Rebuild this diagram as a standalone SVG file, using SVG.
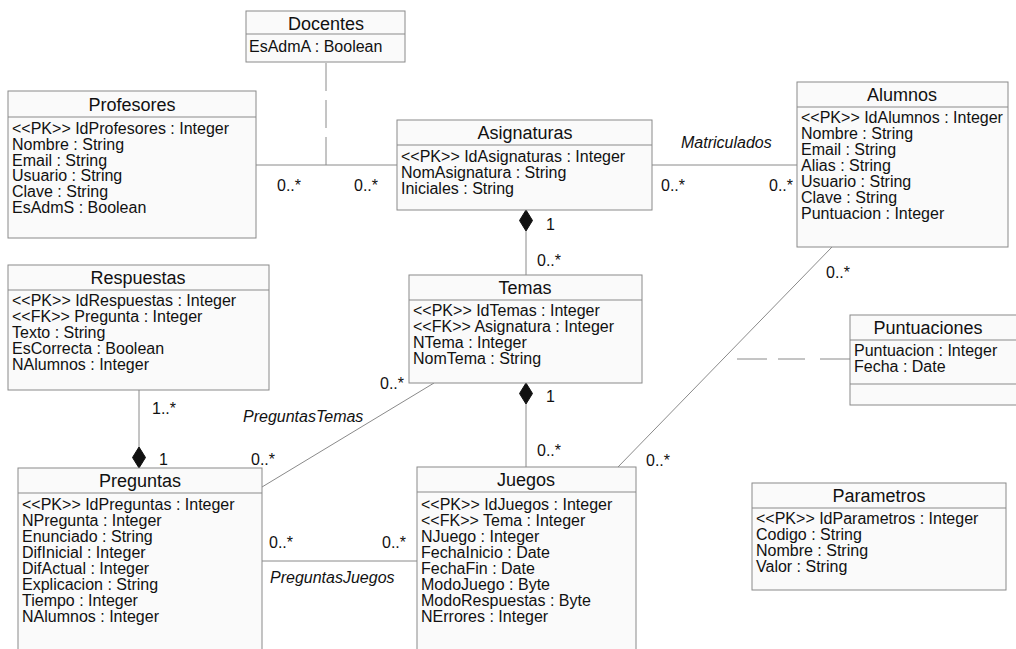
<svg xmlns="http://www.w3.org/2000/svg" width="1016" height="649" viewBox="0 0 1016 649">
<style>
.box{fill:#fafafa;stroke:#8a8a8a;stroke-width:1}
.div{stroke:#8a8a8a;stroke-width:1}
.t{font-family:"Liberation Sans",Arial,sans-serif;font-size:18px;fill:#111;text-anchor:middle}
.a{font-family:"Liberation Sans",Arial,sans-serif;font-size:16px;fill:#111}
.m{font-family:"Liberation Sans",Arial,sans-serif;font-size:16px;fill:#111}
.i{font-family:"Liberation Sans",Arial,sans-serif;font-size:16px;fill:#111;font-style:italic}
.ln{stroke:#8a8a8a;stroke-width:1;fill:none}
.dash{stroke:#8a8a8a;stroke-width:1;fill:none;stroke-dasharray:28 9}
.dash2{stroke:#8a8a8a;stroke-width:1;fill:none;stroke-dasharray:30 15 27 11 30}
.dia{fill:#111;stroke:#111}
</style>
<rect width="1016" height="649" fill="#ffffff"/>
<g id="connectors">
  <line class="ln" x1="256" y1="165" x2="397" y2="165"/>
  <line class="dash" x1="326" y1="165" x2="326" y2="62"/>
  <line class="ln" x1="652" y1="165" x2="797" y2="165"/>
  <line class="ln" x1="526" y1="231" x2="526" y2="275"/>
  <polygon class="dia" points="526,210 532.5,220.5 526,231 519.5,220.5"/>
  <line class="ln" x1="526" y1="404" x2="526" y2="467"/>
  <polygon class="dia" points="526,383 532.5,393.5 526,404 519.5,393.5"/>
  <line class="ln" x1="139" y1="390" x2="139" y2="447"/>
  <polygon class="dia" points="139,447 145.5,457.5 139,468 132.5,457.5"/>
  <line class="ln" x1="434" y1="383" x2="262" y2="487"/>
  <line class="ln" x1="262" y1="561" x2="417" y2="561"/>
  <line class="ln" x1="832" y1="247" x2="618" y2="467"/>
  <line class="dash2" x1="850" y1="359" x2="737" y2="359"/>
  <text class="m" x="277" y="191">0..*</text>
  <text class="m" x="354" y="191">0..*</text>
  <text class="i" x="681" y="148">Matriculados</text>
  <text class="m" x="661" y="191">0..*</text>
  <text class="m" x="769" y="191">0..*</text>
  <text class="m" x="546" y="230">1</text>
  <text class="m" x="537" y="266">0..*</text>
  <text class="m" x="546" y="402">1</text>
  <text class="m" x="537" y="456">0..*</text>
  <text class="m" x="152" y="414">1..*</text>
  <text class="m" x="159" y="465">1</text>
  <text class="m" x="380" y="389">0..*</text>
  <text class="i" x="243" y="422">PreguntasTemas</text>
  <text class="m" x="251" y="465">0..*</text>
  <text class="m" x="269" y="548">0..*</text>
  <text class="m" x="382" y="548">0..*</text>
  <text class="i" x="270" y="583">PreguntasJuegos</text>
  <text class="m" x="826" y="278">0..*</text>
  <text class="m" x="646" y="466">0..*</text>
</g>
<g id="Docentes">
  <rect class="box" x="246" y="11" width="159" height="51"/>
  <line class="div" x1="246" y1="34" x2="405" y2="34"/>
  <text class="t" x="326" y="30">Docentes</text>
  <text class="a" x="249" y="52">EsAdmA : Boolean</text>
</g>
<g id="Profesores">
  <rect class="box" x="8" y="91" width="248" height="147"/>
  <line class="div" x1="8" y1="117" x2="256" y2="117"/>
  <text class="t" x="132" y="111">Profesores</text>
  <text class="a" x="12" y="134">&lt;&lt;PK&gt;&gt; IdProfesores : Integer</text>
  <text class="a" x="12" y="150">Nombre : String</text>
  <text class="a" x="12" y="166">Email : String</text>
  <text class="a" x="12" y="181">Usuario : String</text>
  <text class="a" x="12" y="197">Clave : String</text>
  <text class="a" x="12" y="213">EsAdmS : Boolean</text>
</g>
<g id="Asignaturas">
  <rect class="box" x="397" y="120" width="255" height="90"/>
  <line class="div" x1="397" y1="145" x2="652" y2="145"/>
  <text class="t" x="525" y="139">Asignaturas</text>
  <text class="a" x="401" y="162">&lt;&lt;PK&gt;&gt; IdAsignaturas : Integer</text>
  <text class="a" x="401" y="178">NomAsignatura : String</text>
  <text class="a" x="401" y="194">Iniciales : String</text>
</g>
<g id="Alumnos">
  <rect class="box" x="797" y="82" width="211" height="165"/>
  <line class="div" x1="797" y1="107" x2="1008" y2="107"/>
  <text class="t" x="902" y="101">Alumnos</text>
  <text class="a" x="801" y="123">&lt;&lt;PK&gt;&gt; IdAlumnos : Integer</text>
  <text class="a" x="801" y="139">Nombre : String</text>
  <text class="a" x="801" y="155">Email : String</text>
  <text class="a" x="801" y="171">Alias : String</text>
  <text class="a" x="801" y="187">Usuario : String</text>
  <text class="a" x="801" y="203">Clave : String</text>
  <text class="a" x="801" y="219">Puntuacion : Integer</text>
</g>
<g id="Respuestas">
  <rect class="box" x="8" y="265" width="261" height="125"/>
  <line class="div" x1="8" y1="290" x2="269" y2="290"/>
  <text class="t" x="138" y="284">Respuestas</text>
  <text class="a" x="12" y="306">&lt;&lt;PK&gt;&gt; IdRespuestas : Integer</text>
  <text class="a" x="12" y="322">&lt;&lt;FK&gt;&gt; Pregunta : Integer</text>
  <text class="a" x="12" y="338">Texto : String</text>
  <text class="a" x="12" y="354">EsCorrecta : Boolean</text>
  <text class="a" x="12" y="370">NAlumnos : Integer</text>
</g>
<g id="Temas">
  <rect class="box" x="409" y="275" width="233" height="108"/>
  <line class="div" x1="409" y1="300" x2="642" y2="300"/>
  <text class="t" x="525" y="294">Temas</text>
  <text class="a" x="413" y="316">&lt;&lt;PK&gt;&gt; IdTemas : Integer</text>
  <text class="a" x="413" y="332">&lt;&lt;FK&gt;&gt; Asignatura : Integer</text>
  <text class="a" x="413" y="348">NTema : Integer</text>
  <text class="a" x="413" y="364">NomTema : String</text>
</g>
<g id="Puntuaciones">
  <rect class="box" x="850" y="315" width="168" height="90"/>
  <line class="div" x1="850" y1="340" x2="1018" y2="340"/>
  <line class="div" x1="850" y1="384" x2="1018" y2="384"/>
  <text class="t" x="928" y="334">Puntuaciones</text>
  <text class="a" x="854" y="356">Puntuacion : Integer</text>
  <text class="a" x="854" y="372">Fecha : Date</text>
</g>
<g id="Preguntas">
  <rect class="box" x="18" y="468" width="244" height="190"/>
  <line class="div" x1="18" y1="493" x2="262" y2="493"/>
  <text class="t" x="140" y="487">Preguntas</text>
  <text class="a" x="22" y="510">&lt;&lt;PK&gt;&gt; IdPreguntas : Integer</text>
  <text class="a" x="22" y="526">NPregunta : Integer</text>
  <text class="a" x="22" y="542">Enunciado : String</text>
  <text class="a" x="22" y="558">DifInicial : Integer</text>
  <text class="a" x="22" y="574">DifActual : Integer</text>
  <text class="a" x="22" y="590">Explicacion : String</text>
  <text class="a" x="22" y="606">Tiempo : Integer</text>
  <text class="a" x="22" y="622">NAlumnos : Integer</text>
</g>
<g id="Juegos">
  <rect class="box" x="417" y="467" width="219" height="190"/>
  <line class="div" x1="417" y1="492" x2="636" y2="492"/>
  <text class="t" x="526" y="486">Juegos</text>
  <text class="a" x="421" y="510">&lt;&lt;PK&gt;&gt; IdJuegos : Integer</text>
  <text class="a" x="421" y="526">&lt;&lt;FK&gt;&gt; Tema : Integer</text>
  <text class="a" x="421" y="542">NJuego : Integer</text>
  <text class="a" x="421" y="558">FechaInicio : Date</text>
  <text class="a" x="421" y="574">FechaFin : Date</text>
  <text class="a" x="421" y="590">ModoJuego : Byte</text>
  <text class="a" x="421" y="606">ModoRespuestas : Byte</text>
  <text class="a" x="421" y="622">NErrores : Integer</text>
</g>
<g id="Parametros">
  <rect class="box" x="752" y="483" width="254" height="107"/>
  <line class="div" x1="752" y1="508" x2="1006" y2="508"/>
  <text class="t" x="879" y="502">Parametros</text>
  <text class="a" x="756" y="524">&lt;&lt;PK&gt;&gt; IdParametros : Integer</text>
  <text class="a" x="756" y="540">Codigo : String</text>
  <text class="a" x="756" y="556">Nombre : String</text>
  <text class="a" x="756" y="572">Valor : String</text>
</g>
</svg>
